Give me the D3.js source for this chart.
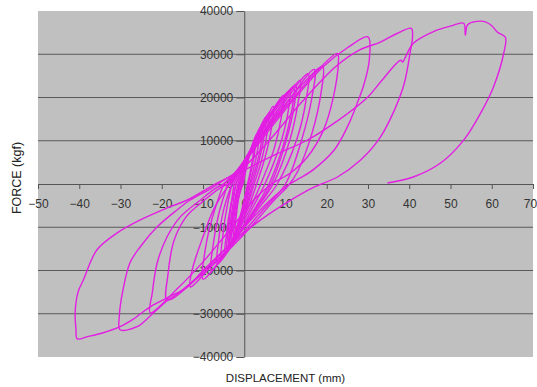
<!DOCTYPE html>
<html>
<head>
<meta charset="utf-8">
<script src="https://cdn.jsdelivr.net/npm/d3@7/dist/d3.min.js"></script>
<style>
  body { margin: 0; background: #fff; }
  svg { display: block; font-family: "Liberation Sans", Arial, sans-serif; }
</style>
</head>
<body>
<div id="chart"></div>
<script>
// axis ticks
const xTicks = [-50, -40, -30, -20, -10, 0, 10, 20, 30, 40, 50, 60, 70];
const yTicks = [-40000, -30000, -20000, -10000, 0, 10000, 20000, 30000, 40000];

// hysteresis cycles: [displacement mm, force kgf]
const cycle01 = [[-0.6,0],[0.4,3500],[1.4,7000],[2.5,10000],[2.2,7000],[1.5,3000],[0.8,0],[0,-3500],[-1,-7500],[-2.2,-11000],[-2,-8000],[-1.4,-3500],[-0.6,0]];
const cycle02 = [[-0.3,0],[0.6,4000],[1.6,8000],[3,11500],[2.7,8500],[1.8,3500],[1,0],[0.2,-4000],[-0.8,-8000],[-2.6,-12500],[-2.3,-8500],[-1.5,-3500],[-0.3,0]];
const cycle03 = [[-1,0],[0.3,4000],[1.8,8500],[3.8,13000],[3.5,9500],[2.4,4000],[1.3,0],[0.2,-4000],[-1.3,-8500],[-3,-13000],[-2.7,-9000],[-1.9,-4000],[-1,0]];
const cycle04 = [[-0.8,0],[0.5,4500],[2.2,9500],[4.5,14000],[4.2,10000],[3,4500],[1.6,0],[0.4,-4500],[-1,-9000],[-3.2,-13500],[-2.9,-9500],[-2,-4000],[-0.8,0]];
const cycle05 = [[-1.5,0],[0.2,4500],[2.5,10000],[5.2,15500],[4.8,11000],[3.5,5000],[2,0],[0.5,-5000],[-1.5,-9500],[-3.5,-14000],[-3.2,-10000],[-2.4,-4500],[-1.5,0]];
const cycle06 = [[-1.2,0],[0.4,5000],[3,11000],[6,16500],[5.6,12000],[4.2,5500],[2.4,0],[0.8,-5000],[-1.2,-10000],[-3.6,-14200],[-3.3,-10000],[-2.3,-4500],[-1.2,0]];
const cycle07 = [[-2,0],[0,4500],[3,11000],[5.5,15500],[7,18000],[6.6,13000],[5,6000],[3,0],[1,-5500],[-1.5,-10500],[-3.8,-14500],[-3.5,-10500],[-2.8,-5000],[-2,0]];
const cycle08 = [[-2.5,0],[0,5000],[3.5,11500],[6.5,16500],[9.5,20500],[9,15500],[7.2,8000],[4,0],[1.5,-5500],[-1.5,-11000],[-4.2,-15000],[-3.9,-11000],[-3.2,-5000],[-2.5,0]];
const cycle09 = [[-2,0],[0.3,5000],[4,12500],[8,18500],[11,21500],[10.5,16000],[8.5,8500],[5,0],[2,-5500],[-1,-11000],[-4.6,-15800],[-4.3,-11500],[-3.4,-5500],[-2,0]];
const cycle10 = [[-3,0],[-0.5,4500],[3.5,11000],[7.5,17500],[12,22500],[11.5,17000],[9.5,9000],[6,0],[3,-5000],[-1,-11000],[-5.5,-17000],[-5.2,-12000],[-4.3,-6000],[-3,0]];
const cycle11 = [[-3,0],[-0.5,4500],[4,12000],[9,19000],[12.5,23000],[12,17500],[10,9500],[6.5,0],[3,-5500],[-1.5,-12000],[-6.5,-18500],[-6.2,-13000],[-5,-6000],[-3,0]];
const cycle12 = [[-4,0],[-1,4000],[3.5,10500],[8,17000],[13.6,24000],[13,18500],[11,10000],[7,0],[3.5,-5000],[-1.5,-11500],[-8,-20000],[-7.6,-14500],[-6.2,-7000],[-4,0]];
const cycle13 = [[-5,0],[-1.5,3500],[3,9500],[8,16500],[15.5,25500],[15,19500],[12.8,10500],[8,0],[4,-5000],[-2,-12500],[-10,-22000],[-9.6,-16000],[-7.8,-8000],[-5,0]];
const cycle14 = [[-3.5,0],[-1,3500],[3,9500],[9,17000],[17,26500],[16.4,20000],[14,10500],[10,0],[5,-5500],[-2,-13000],[-8,-19000],[-13.1,-23800],[-12.6,-19800],[-10,-12200],[-7.5,-6000],[-5.1,-2100],[-3.5,0]];
const cycle15 = [[-3.5,0],[-1,3500],[4,10500],[10,18500],[15,24000],[19,27200],[18.6,21000],[16.5,12000],[13,3000],[11,0],[7,-4000],[2,-9500],[-4,-15500],[-11,-21500],[-18.7,-26800],[-18.5,-21000],[-17,-13000],[-14,-7500],[-10,-4000],[-6,-1000],[-4,0]];
const cycle16 = [[-4,0],[-1.5,3000],[4,10500],[12,20000],[17.5,26000],[22.6,30200],[22.8,27900],[21.6,20080],[19.2,12460],[15.3,6230],[11.2,2540],[7,230],[3,-3000],[-3,-10000],[-10,-18000],[-16,-24000],[-22.8,-29800],[-22.3,-25200],[-21.1,-18200],[-18.7,-12200],[-15.5,-7600],[-11,-4000],[-7,-1000],[-5,0]];
const cycle17 = [[-5,0],[-2,2500],[4,10000],[12,19500],[19,27000],[25,31500],[30,34000],[30.3,28600],[29.1,23300],[27.4,18700],[25,13200],[21.8,7850],[17,3500],[13.6,1400],[11,0],[6,-4000],[0,-10000],[-8,-18500],[-15,-24500],[-18.7,-27000],[-22.8,-30500],[-26,-33000],[-30.1,-33700],[-30.3,-30700],[-29.4,-24500],[-27.7,-18200],[-25.2,-14500],[-21.1,-9900],[-16.3,-6000],[-13.1,-3700],[-8,-1000],[-4,1500]];
const cycle18 = [[-4,1500],[0,4000],[6,10000],[14,19000],[22,27000],[28,31000],[33,32800],[37,34800],[40.5,36000],[40.8,34000],[40.3,30900],[38.8,23300],[36.4,17080],[33,10850],[28.2,5540],[22.6,1620],[17,-690],[10,-4500],[3,-9000],[-4,-14500],[-10,-20000],[-13.8,-23800],[-18,-26000],[-22.8,-28400],[-27,-31300],[-30.1,-33000],[-34.2,-34400],[-38,-35300],[-40.5,-35800],[-40.8,-33500],[-41,-29800],[-40.3,-25000],[-39,-22200],[-35.7,-15200],[-30.8,-11300],[-25.2,-8300],[-18.7,-5540],[-13.8,-3700],[-6.6,200],[-1,2800],[1.5,3900]];
const cycle19 = [[1.5,3900],[8,7000],[15,10000],[21.8,14080],[29.9,20080],[33,23540],[37.9,28620],[38.4,28200],[39,29200],[41,32540],[46,35300],[50,36500],[53.2,37160],[53.6,34400],[54.2,36900],[58,37600],[60,36600],[61.4,35080],[63.3,33930],[62.9,30230],[60.4,22390],[57.3,16390],[53.2,10150],[47.6,4850],[41,1620],[34.7,230]];

const cycles = [cycle01, cycle02, cycle03, cycle04, cycle05, cycle06, cycle07,
  cycle08, cycle09, cycle10, cycle11, cycle12, cycle13, cycle14, cycle15,
  cycle16, cycle17, cycle18, cycle19];

const width = 537;
const height = 387;
const plot = { left: 38, right: 533, top: 11, bottom: 357 };

const svg = d3.select('#chart')
  .append('svg')
  .attr('width', width)
  .attr('height', height);

const x = d3.scaleLinear().domain([-50, 70]).range([plot.left, plot.right]);
const y = d3.scaleLinear().domain([-40000, 40000]).range([plot.bottom, plot.top]);

// plot area
svg.append('rect')
  .attr('x', plot.left)
  .attr('y', plot.top)
  .attr('width', plot.right - plot.left)
  .attr('height', plot.bottom - plot.top)
  .attr('fill', '#c0c0c0');

// horizontal gridlines
svg.append('g')
  .selectAll('line')
  .data(yTicks.filter(d => d !== 0 && Math.abs(d) < 40000))
  .enter()
  .append('line')
  .attr('x1', plot.left)
  .attr('x2', plot.right)
  .attr('y1', d => y(d))
  .attr('y2', d => y(d))
  .attr('stroke', '#5a5a5a')
  .attr('stroke-width', 1);

// y axis through x = 0
const yAxis = svg.append('g')
  .attr('transform', `translate(${x(0)},0)`)
  .call(d3.axisLeft(y).tickValues(yTicks).tickSize(8).tickSizeOuter(0).tickPadding(3).tickFormat(d3.format('d')));

// x axis through y = 0
const xAxis = svg.append('g')
  .attr('transform', `translate(0,${y(0)})`)
  .call(d3.axisBottom(x).tickValues(xTicks).tickSize(5).tickSizeOuter(0).tickPadding(10).tickFormat(d3.format('d')));

[yAxis, xAxis].forEach(g => {
  g.select('.domain').attr('stroke', '#555');
  g.selectAll('.tick line').attr('stroke', '#555');
  g.selectAll('.tick text')
    .attr('fill', '#333')
    .style('font-size', '12px')
    .style('font-family', '"Liberation Sans", Arial, sans-serif');
});

// last label sits at the right edge, pull it in so it is not clipped
xAxis.selectAll('.tick text')
  .filter(d => d === 70)
  .attr('dx', -3);

// hysteresis loops
const line = d3.line()
  .x(d => x(d[0]))
  .y(d => y(d[1]))
  .curve(d3.curveCatmullRom.alpha(0.5));

svg.append('g')
  .selectAll('path')
  .data(cycles)
  .enter()
  .append('path')
  .attr('d', line)
  .attr('fill', 'none')
  .attr('stroke', '#e31ee3')
  .attr('stroke-width', 1.4)
  .attr('stroke-linejoin', 'round');

// axis titles
svg.append('text')
  .attr('x', 285.5)
  .attr('y', 382)
  .attr('text-anchor', 'middle')
  .attr('fill', '#222')
  .style('font-size', '11.5px')
  .text('DISPLACEMENT (mm)');

svg.append('text')
  .attr('transform', `translate(21,178) rotate(-90)`)
  .attr('text-anchor', 'middle')
  .attr('fill', '#222')
  .style('font-size', '12.5px')
  .text('FORCE (kgf)');
</script>
</body>
</html>
